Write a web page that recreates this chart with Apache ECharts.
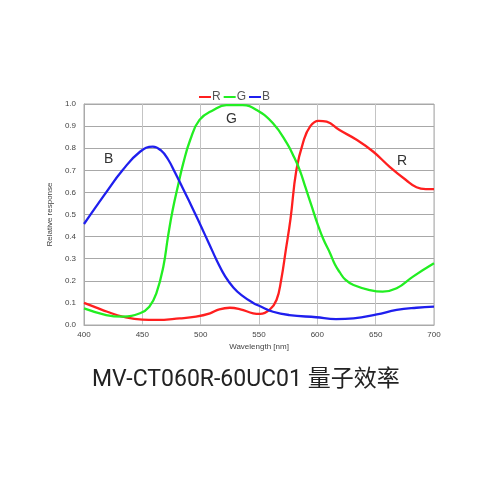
<!DOCTYPE html>
<html>
<head>
<meta charset="utf-8">
<script src="https://cdn.jsdelivr.net/npm/echarts@6/dist/echarts.min.js"></script>
<style>html,body{margin:0;padding:0;background:#fff}#c{width:500px;height:500px}</style>
</head>
<body>
<div id="c"></div>
<script>
var seriesNames = ['R', 'G', 'B'];
var xTicks = [400, 450, 500, 550, 600, 650, 700];
var redX = [400, 410, 420, 433, 450, 462, 482, 496, 508, 516, 525, 534, 545, 551, 559, 565, 569, 573, 577, 582, 588, 594, 601, 608, 619, 634, 648, 662, 676, 685, 693, 700];
var redY = [0.10, 0.08, 0.06, 0.038, 0.024, 0.023, 0.03, 0.038, 0.053, 0.071, 0.078, 0.071, 0.053, 0.05, 0.068, 0.113, 0.204, 0.34, 0.48, 0.70, 0.83, 0.90, 0.924, 0.92, 0.882, 0.837, 0.784, 0.716, 0.656, 0.623, 0.615, 0.615];
var greenX = [400, 419, 433, 448, 456, 462, 468, 472, 476, 481, 485, 491, 499, 511, 522, 536, 548, 562, 574, 580, 585, 590, 595, 600, 605, 611, 615, 619, 624, 631, 645, 656, 668, 682, 700];
var greenY = [0.075, 0.045, 0.038, 0.053, 0.083, 0.143, 0.264, 0.40, 0.52, 0.64, 0.73, 0.837, 0.928, 0.973, 0.995, 0.995, 0.973, 0.913, 0.822, 0.76, 0.70, 0.62, 0.54, 0.46, 0.39, 0.324, 0.275, 0.24, 0.205, 0.181, 0.158, 0.151, 0.166, 0.219, 0.279];
var blueX = [400, 419, 433, 448, 459, 466, 472, 478, 485, 492, 500, 507, 514, 521, 528, 535, 545, 551, 562, 576, 599, 616, 631, 651, 668, 685, 700];
var blueY = [0.457, 0.60, 0.70, 0.784, 0.807, 0.79, 0.75, 0.69, 0.615, 0.54, 0.45, 0.37, 0.29, 0.22, 0.17, 0.135, 0.10, 0.085, 0.06, 0.045, 0.035, 0.027, 0.03, 0.048, 0.068, 0.078, 0.083];
var colors = ['#ff1f1f', '#22ee22', '#1f1fee'];
var title = 'MV-CT060R-60UC01 量子效率';
var axisNames = ['Wavelength [nm]', 'Relative response'];

function pairs(xs, ys) { return xs.map(function (x, i) { return [x, ys[i]]; }); }
var allData = [pairs(redX, redY), pairs(greenX, greenY), pairs(blueX, blueY)];

var chart = echarts.init(document.getElementById('c'));
chart.setOption({
  animation: false,
  backgroundColor: '#fff',
  grid: { left: 84, right: 66, top: 104, bottom: 175, show: true, borderColor: '#aaa', borderWidth: 1 },
  legend: {
    data: seriesNames,
    top: 86, left: 194,
    itemWidth: 12, itemHeight: 2, itemGap: 3,
    icon: 'rect',
    textStyle: { color: '#555', fontSize: 12, fontFamily: 'Liberation Sans, Arial', padding: [0, 0, 0, -4] }
  },
  xAxis: {
    type: 'value', min: 400, max: 700, interval: 50,
    name: axisNames[0], nameLocation: 'middle', nameGap: 18,
    nameTextStyle: { fontSize: 8, color: '#444', fontFamily: 'Liberation Sans, Arial' },
    axisLine: { show: true, lineStyle: { color: '#aaa' } },
    axisTick: { show: false },
    axisLabel: { fontSize: 8, color: '#444', margin: 6, fontFamily: 'Liberation Sans, Arial' },
    splitLine: { show: true, lineStyle: { color: '#c4c4c4', width: 1 } }
  },
  yAxis: {
    type: 'value', min: 0, max: 1, interval: 0.1,
    name: axisNames[1], nameLocation: 'middle', nameGap: 25,
    nameTextStyle: { fontSize: 8, color: '#444', fontFamily: 'Liberation Sans, Arial' },
    axisLine: { show: true, lineStyle: { color: '#aaa' } },
    axisTick: { show: false },
    axisLabel: { fontSize: 8, color: '#444', margin: 8, fontFamily: 'Liberation Sans, Arial', formatter: function (v) { return v.toFixed(1); } },
    splitLine: { show: true, lineStyle: { color: '#a8a8a8', width: 1 } }
  },
  series: seriesNames.map(function (n, i) {
    return {
      name: n, type: 'line', smooth: 0.45, showSymbol: false, symbol: 'none',
      data: allData[i], color: colors[i],
      lineStyle: { width: 2.3, color: colors[i] }
    };
  }),
  graphic: [
    { type: 'text', left: 104, top: 152, style: { text: 'B', fontSize: 14, fill: '#333', fontFamily: 'Liberation Sans, Arial' } },
    { type: 'text', left: 226, top: 112, style: { text: 'G', fontSize: 14, fill: '#333', fontFamily: 'Liberation Sans, Arial' } },
    { type: 'text', left: 397, top: 154, style: { text: 'R', fontSize: 14, fill: '#333', fontFamily: 'Liberation Sans, Arial' } },
    { type: 'text', left: 92, top: 369, style: { text: title, fontSize: 23, fill: '#222', fontFamily: 'Roboto, Noto Sans CJK SC' } }
  ]
});
</script>
</body>
</html>
